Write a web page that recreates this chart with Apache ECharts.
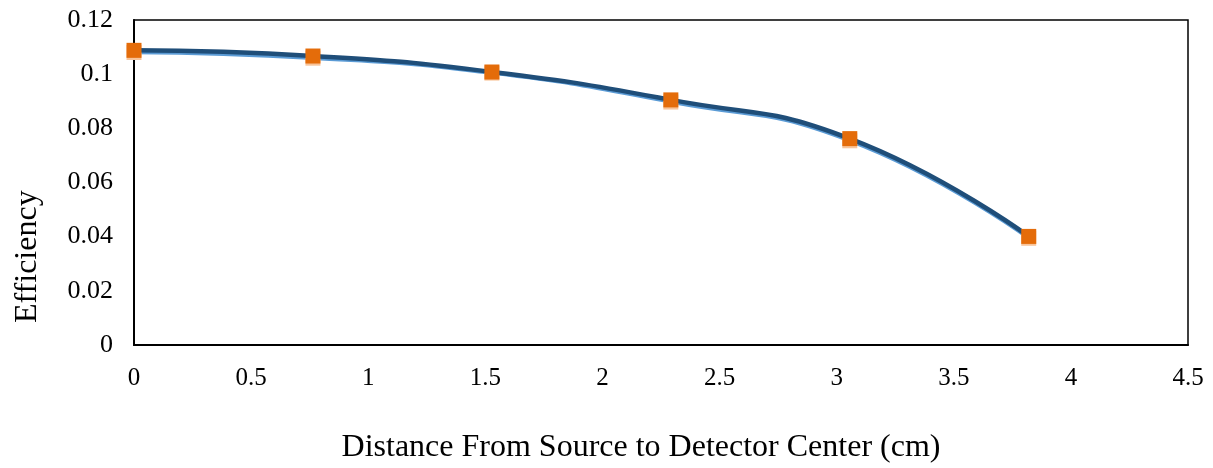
<!DOCTYPE html>
<html>
<head>
<meta charset="utf-8">
<script src="https://cdn.jsdelivr.net/npm/echarts@6/dist/echarts.min.js"></script>
<style>
  html, body { margin: 0; padding: 0; background: #fff; }
  #chart { width: 1213px; height: 468px; }
</style>
</head>
<body>
<div id="chart"></div>
<script>
// Source-to-detector-centre distance (cm)
const distances = [0, 0.764, 1.528, 2.292, 3.056, 3.82];
// Efficiency, two closely agreeing data sets
const efficiencyA = [0.1080, 0.1059, 0.1004, 0.0897, 0.0754, 0.0394];
const efficiencyB = [0.1088, 0.1067, 0.1008, 0.0905, 0.0762, 0.0401];
// Axis ranges / tick spacing
const xTicks = { min: 0, max: 4.5, step: 0.5 };
const yTicks = { min: 0, max: 0.12, step: 0.02 };

const pairs = (xs, ys) => xs.map((x, i) => [x, ys[i]]);
const serif = '"Liberation Serif", "Times New Roman", serif';

const chart = echarts.init(document.getElementById('chart'));
chart.setOption({
  animation: false,
  backgroundColor: '#fff',
  grid: {
    left: 134, right: 25, top: 20, bottom: 123,
    show: true, borderColor: '#000', borderWidth: 1.5
  },
  xAxis: {
    type: 'value', min: xTicks.min, max: xTicks.max, interval: xTicks.step,
    axisLine: { show: true, lineStyle: { color: '#000', width: 2 } },
    axisTick: { show: false },
    splitLine: { show: false },
    axisLabel: { color: '#000', fontFamily: serif, fontSize: 25, margin: 21,
      formatter: v => String(+v.toFixed(2)) }
  },
  yAxis: {
    type: 'value', min: yTicks.min, max: yTicks.max, interval: yTicks.step,
    axisLine: { show: true, lineStyle: { color: '#000', width: 2 } },
    axisTick: { show: false },
    splitLine: { show: false },
    axisLabel: { color: '#000', fontFamily: serif, fontSize: 26, margin: 21,
      formatter: v => String(+v.toFixed(2)) }
  },
  graphic: [
    { type: 'text', x: 641, y: 432,
      style: { text: 'Distance From Source to Detector Center (cm)', fill: '#000',
        font: '32px ' + serif, textAlign: 'center' } },
    { type: 'text', x: 12, y: 323, rotation: Math.PI / 2,
      style: { text: 'Efficiency', fill: '#000', font: '32px ' + serif } }
  ],
  series: [
    {
      type: 'line', data: pairs(distances, efficiencyA),
      smooth: 0.5, clip: false, z: 2,
      lineStyle: { color: '#5b9bd5', width: 3.5 },
      symbol: 'rect', symbolSize: 15,
      itemStyle: { color: '#f8c49a', borderWidth: 0 }
    },
    {
      type: 'line', data: pairs(distances, efficiencyB),
      smooth: 0.5, clip: false, z: 3,
      lineStyle: { color: '#1f4e79', width: 4.5 },
      symbol: 'rect', symbolSize: 15,
      itemStyle: { color: '#e46c0a', borderWidth: 0 }
    }
  ]
});
</script>
</body>
</html>
